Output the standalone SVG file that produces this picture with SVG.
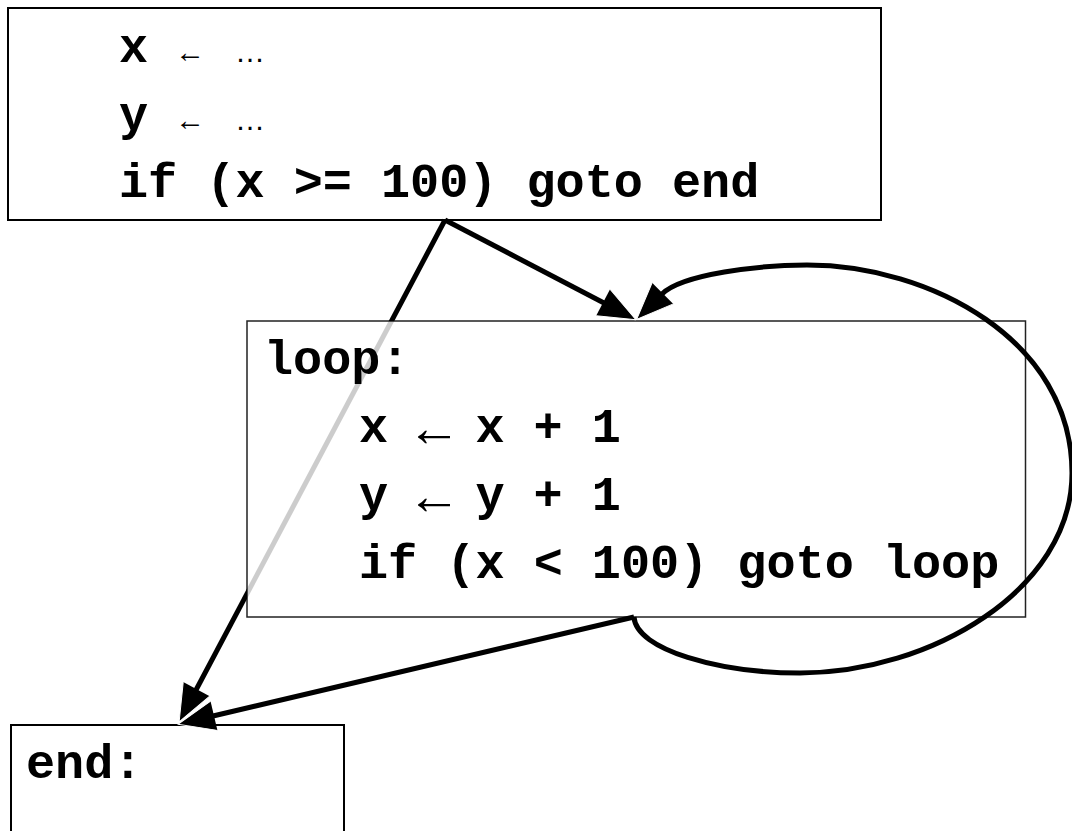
<svg xmlns="http://www.w3.org/2000/svg" width="1072" height="831" viewBox="0 0 1072 831">
  <style>
    .box { fill: #fff; stroke: #000; stroke-width: 2; }
    .box-loop { fill: #fff; fill-opacity: 0.8; stroke: #222; stroke-width: 1.5; }
    .code { font-family: "Liberation Mono", "Courier New", monospace; font-weight: bold; font-size: 48.5px; fill: #000; }
    .arrow { font-family: "Liberation Sans", Arial, sans-serif; font-weight: normal; font-size: 54px; }
    .arrow-sm { font-family: "Liberation Sans", Arial, sans-serif; font-weight: normal; font-size: 30px; }
    .dots { font-family: "Liberation Sans", Arial, sans-serif; font-weight: normal; font-size: 30px; }
    .edge { fill: none; stroke: #000; stroke-width: 5; }
  </style>
  <defs>
    <marker id="head" markerUnits="userSpaceOnUse" markerWidth="37" markerHeight="30" viewBox="0 0 37 30" refX="1" refY="15" orient="auto" overflow="visible">
      <path d="M0,0 L37,15 L0,30 z" fill="#000"/>
      <path d="M0,0 L37,15 L0,30" fill="none" stroke="#fff" stroke-width="1" stroke-linejoin="round"/>
    </marker>
    <!-- the jump to "end" runs underneath the translucent loop block -->
    <mask id="under-loop" maskUnits="userSpaceOnUse" x="0" y="0" width="1072" height="831">
      <rect x="0" y="0" width="1072" height="831" fill="#fff"/>
      <rect x="247" y="321" width="778.5" height="296" fill="#333"/>
    </mask>
  </defs>

  <g id="entry">
    <rect class="box" x="8" y="8" width="873" height="212"/>
    <text class="code" y="62"><tspan x="119">x</tspan><tspan class="arrow-sm" x="175" y="62">←</tspan><tspan class="dots" x="235" y="62">…</tspan></text>
    <text class="code" y="130"><tspan x="119">y</tspan><tspan class="arrow-sm" x="175" y="130">←</tspan><tspan class="dots" x="235" y="130">…</tspan></text>
    <text class="code" x="119" y="197" xml:space="preserve">if (x &gt;= 100) goto end</text>
  </g>

  <g id="loop">
    <rect class="box-loop" x="247" y="321" width="778.5" height="296"/>
    <text class="code" x="264" y="374">loop:</text>
    <text class="code" y="442"><tspan x="359">x</tspan><tspan class="arrow" x="407" y="446">←</tspan><tspan x="475.4" y="442">x + 1</tspan></text>
    <text class="code" y="510"><tspan x="359">y</tspan><tspan class="arrow" x="407" y="514">←</tspan><tspan x="475.4" y="510">y + 1</tspan></text>
    <text class="code" x="359" y="578" xml:space="preserve">if (x &lt; 100) goto loop</text>
  </g>

  <g id="end">
    <rect class="box" x="11" y="725" width="333" height="130"/>
    <text class="code" x="26" y="778">end:</text>
  </g>

  <g id="edges">
    <line class="edge" x1="445" y1="220" x2="196" y2="690" mask="url(#under-loop)" marker-end="url(#head)"/>
    <line class="edge" x1="445" y1="220" x2="604" y2="303" marker-end="url(#head)"/>
    <path class="edge" d="M634,617 C636,650 720,673 800,673 C930,673 1072,590 1072,473 C1072,340 930,265 807,265 C760,265 682,274 662,294" stroke-width="4.5" marker-end="url(#head)"/>
    <line class="edge" x1="634" y1="617" x2="213" y2="716" marker-end="url(#head)"/>
  </g>
</svg>
